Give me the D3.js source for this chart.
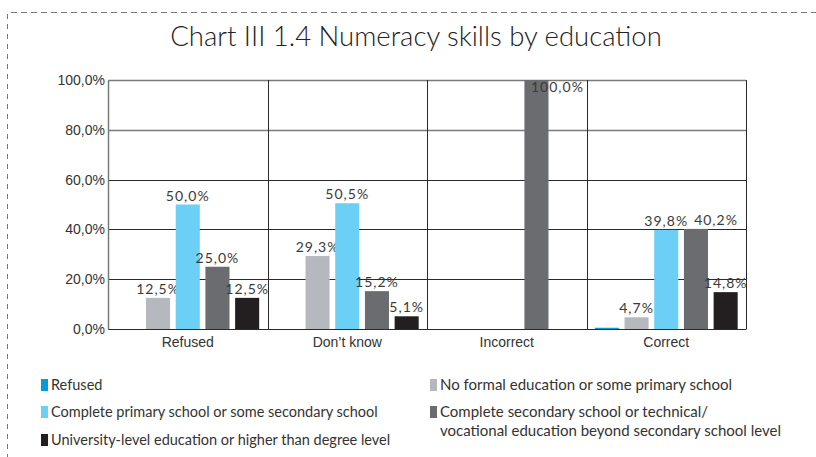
<!DOCTYPE html>
<html>
<head>
<meta charset="utf-8">
<script src="https://cdn.jsdelivr.net/npm/d3@7/dist/d3.min.js"></script>
<style>
  html, body { margin: 0; padding: 0; background: #fff; }
  svg { display: block; font-family: "Lato", "Open Sans", sans-serif; }
</style>
</head>
<body>
<svg id="chart" width="816" height="457"></svg>
<script>
// Answer groups along the x axis
const categories = ["Refused", "Don\u2019t know", "Incorrect", "Correct"];

// Education level series (share of respondents, %)
const seriesNames = [
  "Refused",
  "No formal education or some primary school",
  "Complete primary school or some secondary school",
  "Complete secondary school or technical/ vocational education beyond secondary school level",
  "University-level education or higher than degree level"
];
const refusedEdu     = [0,    0,    0,   0.5];
const noFormal       = [12.5, 29.3, 0,   4.7];
const primary        = [50.0, 50.5, 0,  39.8];
const secondary      = [25.0, 15.2, 100.0, 40.2];
const university     = [12.5, 5.1,  0,  14.8];
const seriesValues = [refusedEdu, noFormal, primary, secondary, university];
const seriesColors = ["#0a9ad8", "#b5b8bc", "#6ccff5", "#6b6c70", "#231f20"];

const yTicks = [0, 20, 40, 60, 80, 100];
const fmt = v => d3.format(".1f")(v).replace(".", ",") + "%";

const svg = d3.select("#chart");
const m = { left: 108, right: 746, top: 80, bottom: 329 };

// dashed frame along top and left
svg.append("line").attr("x1", 11).attr("x2", 816).attr("y1", 12.5).attr("y2", 12.5)
  .attr("stroke", "#777").attr("stroke-dasharray", "6,4");
svg.append("line").attr("x1", 7.5).attr("x2", 7.5).attr("y1", 14).attr("y2", 457)
  .attr("stroke", "#777").attr("stroke-dasharray", "5,5");

// title
svg.append("text").attr("x", 416).attr("y", 46).attr("text-anchor", "middle")
  .attr("font-size", 27.5).attr("font-weight", 300).attr("fill", "#222")
  .text("Chart III 1.4 Numeracy skills by education");

const x0 = d3.scaleBand().domain(categories).range([m.left, m.right]).padding(0);
const x1 = d3.scaleBand().domain(d3.range(seriesNames.length))
  .range([0, x0.bandwidth()]).paddingInner(0.19).paddingOuter(0.28);
const y = d3.scaleLinear().domain([0, 100]).range([m.bottom, m.top]);

// horizontal gridlines
svg.append("g").selectAll("line").data(yTicks.filter(t => t > 0)).join("line")
  .attr("x1", m.left).attr("x2", m.right)
  .attr("y1", d => Math.round(y(d)) + 0.5).attr("y2", d => Math.round(y(d)) + 0.5)
  .attr("stroke", d => d >= 80 ? "#7a7a7a" : "#2a2a2a")
  .attr("stroke-width", d => d >= 80 ? 1.6 : 1);

// vertical dividers between groups
svg.append("g").selectAll("line").data(categories.slice(1).concat([null])).join("line")
  .attr("x1", (d, i) => Math.round(i < 3 ? x0(d) : m.right) + 0.5)
  .attr("x2", (d, i) => Math.round(i < 3 ? x0(d) : m.right) + 0.5)
  .attr("y1", m.top).attr("y2", m.bottom)
  .attr("stroke", "#2a2a2a");

// y axis
const yAxis = svg.append("g").attr("transform", `translate(${m.left},0)`)
  .call(d3.axisLeft(y).tickValues(yTicks).tickFormat(fmt).tickSize(0).tickPadding(3));
yAxis.select(".domain").attr("stroke", "#7a7a7a").attr("stroke-width", 1.5);
yAxis.selectAll("text").attr("font-size", 14).attr("fill", "#333").attr("font-family", null);

// bars and value labels
const groups = svg.append("g").selectAll("g").data(categories).join("g")
  .attr("transform", d => `translate(${x0(d)},0)`);
groups.each(function (cat, ci) {
  const g = d3.select(this);
  let prev = null;
  seriesValues.forEach((vals, si) => {
    const v = vals[ci];
    if (v <= 0) return;
    g.append("rect")
      .attr("x", x1(si)).attr("width", x1.bandwidth())
      .attr("y", y(v)).attr("height", y(0) - y(v))
      .attr("fill", seriesColors[si]);
    if (si === 0) return;
    let lx = x1(si) + x1.bandwidth() / 2, ly = y(v) - 4;
    if (ly < m.top + 10) { lx += 21; ly = m.top + 12; }
    const t = g.append("text").attr("x", lx).attr("y", ly).attr("text-anchor", "middle")
      .attr("font-size", 14).attr("letter-spacing", 1).attr("fill", "#3a3a3a").text(fmt(v));
    // nudge a label right when it would collide with its neighbour
    let b = t.node().getBBox();
    if (prev && Math.abs(prev.y - b.y) < b.height && b.x < prev.x + prev.width + 6) {
      lx += prev.x + prev.width + 6 - b.x;
      t.attr("x", lx);
      b = t.node().getBBox();
    }
    prev = b;
  });
});

// x axis
const xAxis = svg.append("g").attr("transform", `translate(0,${m.bottom})`)
  .call(d3.axisBottom(x0).tickSize(0).tickPadding(8));
xAxis.select(".domain").attr("stroke", "#2a2a2a");
xAxis.selectAll("text").attr("font-size", 14).attr("fill", "#333").attr("font-family", null);

// legend
const legendItems = [
  { s: 0, x: 41, y: 385, lines: [seriesNames[0]] },
  { s: 2, x: 41, y: 412, lines: [seriesNames[2]] },
  { s: 4, x: 41, y: 440, lines: [seriesNames[4]] },
  { s: 1, x: 430, y: 385, lines: [seriesNames[1]] },
  { s: 3, x: 430, y: 412, lines: ["Complete secondary school or technical/", "vocational education beyond secondary school level"] }
];
const lg = svg.append("g").selectAll("g").data(legendItems).join("g");
lg.append("rect").attr("x", d => d.x).attr("y", d => d.y - 6).attr("width", 7).attr("height", 12)
  .attr("fill", d => seriesColors[d.s]);
lg.append("text").attr("font-size", d => d.x > 100 ? 15 : 14.5).attr("fill", "#333")
  .selectAll("tspan").data(d => d.lines.map((t, i) => ({ t, i, d }))).join("tspan")
  .attr("x", o => o.d.x + 10).attr("y", o => o.d.y + 5 + o.i * 19).text(o => o.t);
</script>
</body>
</html>
